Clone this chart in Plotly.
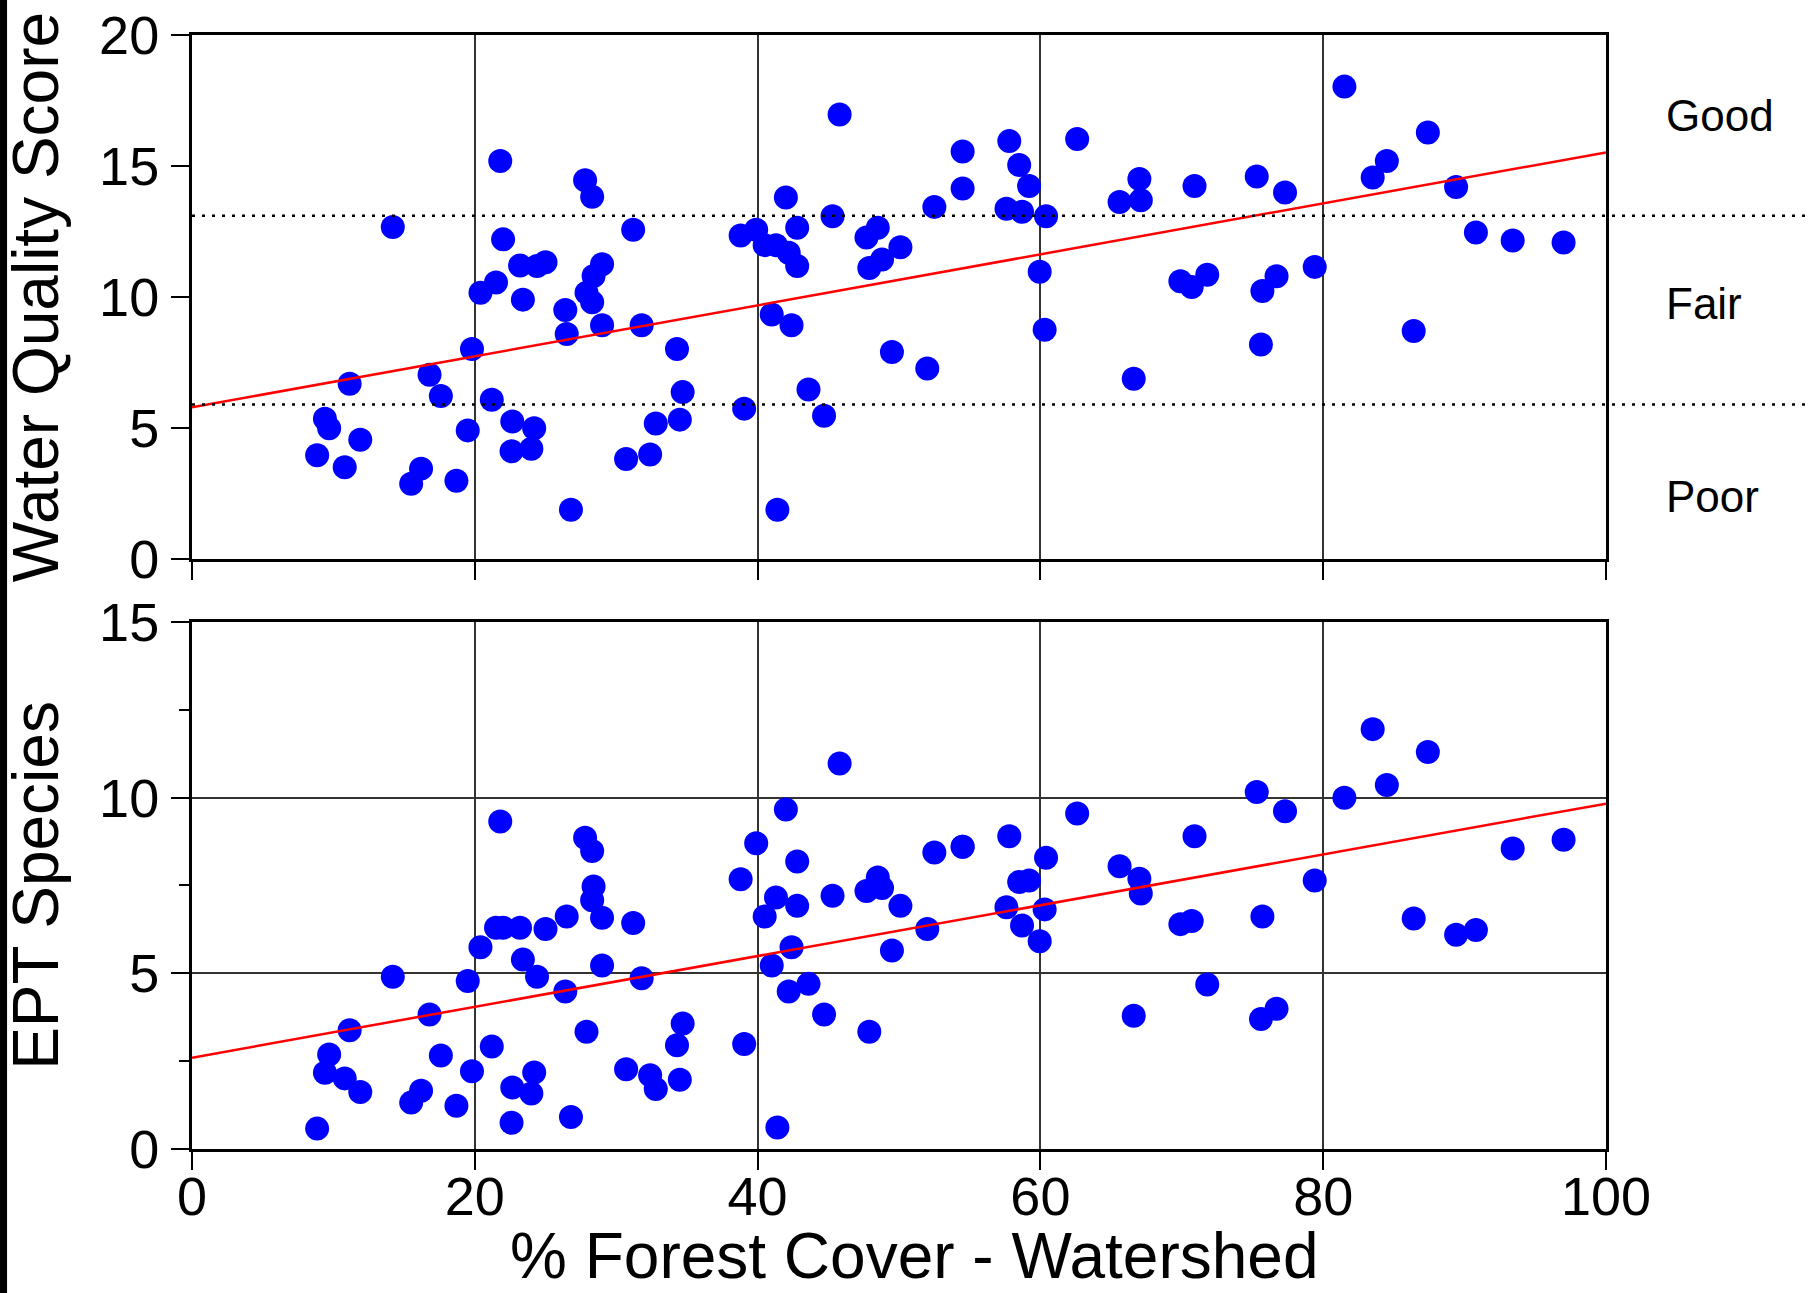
import plotly.graph_objects as go

# ---------------- data ----------------
forest_cover = [
    8.85, 9.4, 9.7, 10.8, 11.15, 11.9, 14.2, 15.5, 16.2, 16.8,
    17.6, 18.7, 19.5, 19.8, 20.4, 21.2, 21.5, 21.8, 22.0, 22.65,
    22.6, 23.2, 23.4, 24.0, 24.2, 24.4, 25.0, 26.4, 26.5, 26.8,
    27.8, 28.3, 27.9, 28.4, 28.3, 29.0, 29.0, 30.7, 31.2, 31.8,
    32.4, 32.8, 34.3, 34.7, 34.5,
    39.05, 38.8, 39.9, 40.5, 41.3, 42.0, 42.2, 42.8, 42.8, 42.4, 41.0, 41.4,
    43.6, 44.7, 45.3, 45.8, 47.7, 47.9, 48.5, 48.8, 50.1, 49.5, 52.0, 52.5, 54.5, 54.5,
    57.8, 57.6, 58.5, 59.2, 58.7, 59.95, 60.3, 60.4, 62.6, 65.6, 67.0, 67.1, 66.6,
    70.9, 69.9, 70.7, 71.8, 75.3, 77.3, 75.7, 76.7, 75.6, 79.4, 81.5, 83.5, 84.5, 87.4,
    89.4, 90.8, 93.4, 97.0, 86.4,
]

water_quality_score = [
    3.96, 5.35, 4.99, 3.5, 6.69, 4.55, 12.67, 2.87, 3.45, 7.03,
    6.22, 2.99, 4.91, 8.02, 10.16, 6.08, 10.55, 15.19, 12.2, 5.25,
    4.11, 11.2, 9.9, 4.21, 4.99, 11.18, 11.33, 9.5, 8.59, 1.88,
    14.46, 13.83, 10.16, 10.8, 9.8, 11.25, 8.92, 3.82, 12.57, 8.92,
    3.99, 5.17, 8.02, 6.37, 5.32,
    5.74, 12.35, 12.57, 11.98, 11.98, 13.8, 11.69, 12.64, 11.18, 8.92, 9.33, 1.88,
    6.47, 5.47, 13.08, 16.97, 12.27, 11.11, 12.64, 11.43, 11.9, 7.9, 7.27, 13.44, 15.55, 14.14,
    15.95, 13.37, 15.04, 14.24, 13.25, 10.96, 8.75, 13.08, 16.03, 13.63, 14.5, 13.69, 6.88,
    14.24, 10.6, 10.38, 10.85, 14.6, 13.99, 10.23, 10.79, 8.19, 11.15, 18.03, 14.56, 15.19, 16.28,
    14.2, 12.46, 12.16, 12.08, 8.7,
]

ept_species = [
    0.58, 2.17, 2.69, 2.01, 3.38, 1.62, 4.9, 1.32, 1.66, 3.83,
    2.66, 1.23, 4.78, 2.21, 5.74, 2.92, 6.3, 9.32, 6.3, 1.75,
    0.75, 6.3, 5.39, 1.58, 2.18, 4.9, 6.26, 4.48, 6.62, 0.91,
    8.86, 8.48, 3.34, 7.47, 7.08, 6.58, 5.22, 2.27, 6.43, 4.86,
    2.1, 1.71, 2.95, 3.57, 1.97,
    2.99, 7.68, 8.7, 6.62, 7.16, 9.66, 4.48, 8.18, 6.92, 5.74, 5.22, 0.61,
    4.7, 3.83, 7.21, 10.97, 7.34, 3.34, 7.73, 7.43, 6.92, 5.65, 6.26, 8.44, 8.6, 8.6,
    8.9, 6.88, 7.6, 7.64, 6.36, 5.91, 6.82, 8.29, 9.55, 8.05, 7.69, 7.27, 3.79,
    8.9, 6.4, 6.49, 4.68, 10.16, 9.61, 6.62, 3.99, 3.7, 7.64, 10.0, 11.95, 10.36, 11.3,
    6.1, 6.23, 8.55, 8.8, 6.56,
]

# fitted regression lines (intercept, slope) as drawn in the reference
wqs_fit = (5.79, 0.0973)
ept_fit = (2.6, 0.0723)
fit_x = [0, 100]

# water-quality class thresholds and labels
thresholds = [13.1, 5.9]
class_labels = ["Good", "Fair", "Poor"]
class_label_y = [16.93, 9.77, 2.39]

x_ticks = [0, 20, 40, 60, 80, 100]
wqs_ticks = [0, 5, 10, 15, 20]
ept_ticks = [0, 5, 10, 15]

# ---------------- figure ----------------
FONT = "Liberation Sans, Arial, Helvetica, sans-serif"
fig = go.Figure()

fig.add_trace(go.Scatter(
    x=forest_cover, y=water_quality_score, mode="markers",
    marker=dict(color="#0000FF", size=24, line=dict(width=0)),
    xaxis="x", yaxis="y", showlegend=False, cliponaxis=False))
fig.add_trace(go.Scatter(
    x=fit_x, y=[wqs_fit[0] + wqs_fit[1] * v for v in fit_x], mode="lines",
    line=dict(color="#FF0000", width=2.5), xaxis="x", yaxis="y", showlegend=False))

fig.add_trace(go.Scatter(
    x=forest_cover, y=ept_species, mode="markers",
    marker=dict(color="#0000FF", size=24, line=dict(width=0)),
    xaxis="x2", yaxis="y2", showlegend=False, cliponaxis=False))
fig.add_trace(go.Scatter(
    x=fit_x, y=[ept_fit[0] + ept_fit[1] * v for v in fit_x], mode="lines",
    line=dict(color="#FF0000", width=2.5), xaxis="x2", yaxis="y2", showlegend=False))

axis_common = dict(
    showline=True, mirror=True, linecolor="black", linewidth=3,
    ticks="outside", ticklen=18, tickwidth=2, tickcolor="black",
    tickfont=dict(family=FONT, size=54, color="black"),
    zeroline=False, gridcolor="#333333", gridwidth=1.5, automargin=False,
)

fig.update_layout(
    width=1812, height=1293,
    margin=dict(l=192, r=206, t=35, b=144, autoexpand=False),
    paper_bgcolor="white", plot_bgcolor="white",
    font=dict(family=FONT, color="black"),
    xaxis=dict(axis_common, domain=[0, 1], range=[0, 100], tickvals=x_ticks,
               showticklabels=False, showgrid=True, anchor="y"),
    yaxis=dict(axis_common, domain=[0.5296, 1], range=[0, 20], tickvals=wqs_ticks,
               showgrid=False, anchor="x", ticklabelstandoff=1,
               title=dict(text="Water Quality Score", font=dict(family=FONT, size=64),
                          standoff=30)),
    xaxis2=dict(axis_common, domain=[0, 1], range=[0, 100], tickvals=x_ticks,
                showgrid=True, anchor="y2", ticklabelstandoff=-20),
    yaxis2=dict(axis_common, domain=[0, 0.4731], range=[0, 15], tickvals=ept_ticks,
                showgrid=True, anchor="x2", ticklabelstandoff=1,
                minor=dict(dtick=2.5, ticks="outside", ticklen=10, tickwidth=2,
                           tickcolor="black", showgrid=False),
                title=dict(text="EPT Species", font=dict(family=FONT, size=64),
                           standoff=30)),
)

# x-axis title placed as text below the tick labels
fig.add_annotation(text="% Forest Cover - Watershed", xref="paper", yref="paper",
                   x=0.511, y=-0.096, xanchor="center", yanchor="middle",
                   showarrow=False, font=dict(family=FONT, size=64, color="black"))

# dotted class-threshold lines, extending past the plot to the page edge
for t in thresholds:
    fig.add_shape(type="line", xref="paper", yref="y", x0=0, x1=1.16, y0=t, y1=t,
                  line=dict(color="black", width=2.5, dash="3px,7px"))

for lab, yv in zip(class_labels, class_label_y):
    fig.add_annotation(text=lab, xref="paper", yref="y", x=1.041, y=yv,
                       xanchor="left", yanchor="middle", showarrow=False,
                       font=dict(family=FONT, size=44, color="black"))

# thin black strip along the left edge of the page (as in the reference)
fig.add_shape(type="rect", xref="paper", yref="paper", x0=-0.1358, x1=-0.1308,
              y0=-0.14, y1=1.04, fillcolor="black", line=dict(width=0), layer="above")

fig.write_html("out.html",
               config={"displayModeBar": False},
               post_script="document.body.style.margin='0px';"
                           "document.body.style.overflow='hidden';")
